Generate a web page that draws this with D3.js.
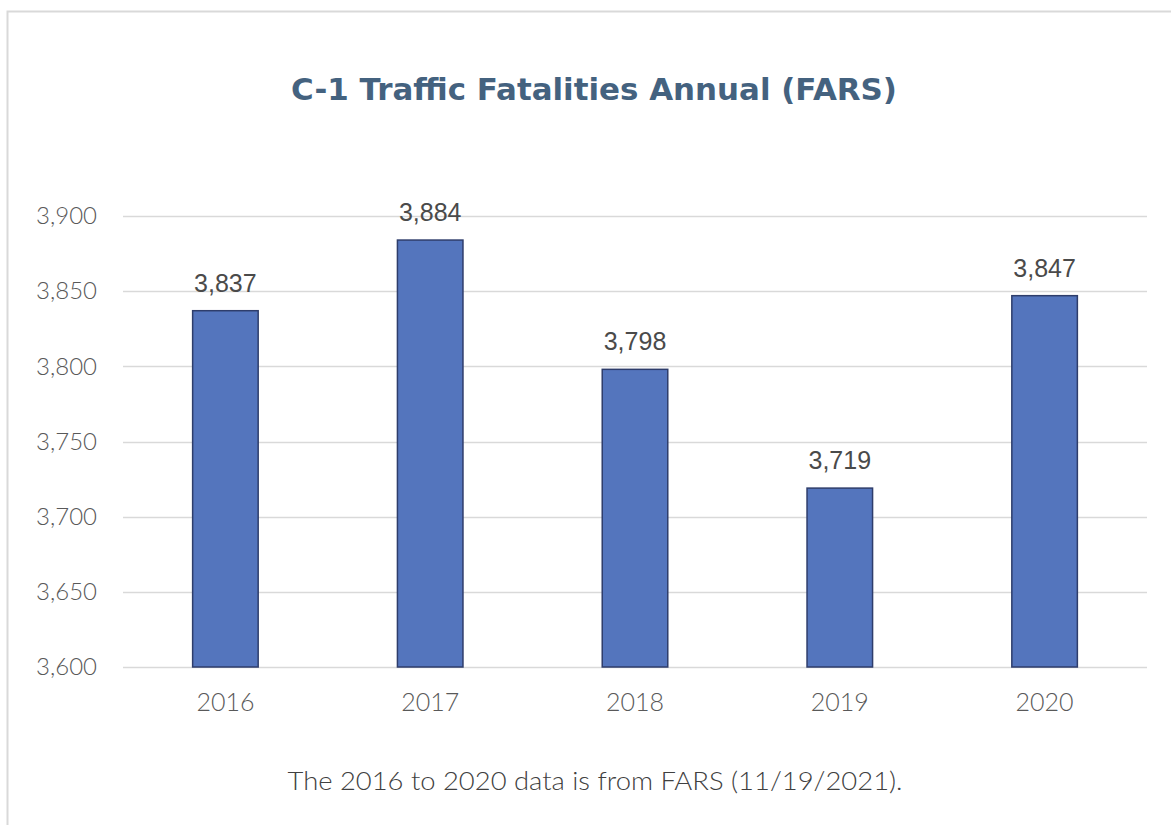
<!DOCTYPE html>
<html>
<head>
<meta charset="utf-8">
<script src="https://cdn.jsdelivr.net/npm/d3@7"></script>
<style>
  html, body { margin: 0; padding: 0; background: #fff; }
  svg { display: block; }
</style>
</head>
<body>
<svg id="chart"></svg>
<script>
// Chart data
const years = ["2016", "2017", "2018", "2019", "2020"];
const fatalities = [3837, 3884, 3798, 3719, 3847];
const yTicks = [3600, 3650, 3700, 3750, 3800, 3850, 3900];
const chartTitle = "C-1 Traffic Fatalities Annual (FARS)";
const footNote = "The 2016 to 2020 data is from FARS (11/19/2021).";

const W = 1171, H = 825;
const margin = { top: 216, right: 24, bottom: 158, left: 123 };
const width = W - margin.left - margin.right;
const height = H - margin.top - margin.bottom;

const svg = d3.select("#chart")
  .attr("width", W)
  .attr("height", H);

// outer chart border (runs off the right / bottom edge)
svg.append("rect")
  .attr("x", 7.5)
  .attr("y", 11.5)
  .attr("width", W + 20)
  .attr("height", H + 20)
  .attr("fill", "#fff")
  .attr("stroke", "#d9d9d9")
  .attr("stroke-width", 2);

svg.append("text")
  .attr("x", 594)
  .attr("y", 100)
  .attr("text-anchor", "middle")
  .attr("font-family", "'Century Gothic', 'DejaVu Sans', sans-serif")
  .attr("font-weight", "bold")
  .attr("font-size", 31)
  .attr("fill", "#44627f")
  .attr("textLength", 606)
  .attr("lengthAdjust", "spacingAndGlyphs")
  .text(chartTitle);

const g = svg.append("g")
  .attr("transform", `translate(${margin.left},${margin.top})`);

const x = d3.scaleBand()
  .domain(years)
  .range([0, width])
  .paddingInner(0.68)
  .paddingOuter(0.34);

const y = d3.scaleLinear()
  .domain([3600, 3900])
  .range([height, 0]);

// gridlines
g.append("g")
  .selectAll("line")
  .data(yTicks)
  .join("line")
  .attr("x1", 0)
  .attr("x2", width)
  .attr("y1", d => Math.round(y(d)) + 0.5)
  .attr("y2", d => Math.round(y(d)) + 0.5)
  .attr("stroke", "#d9d9d9")
  .attr("stroke-width", 1.5);

// y axis labels
const yAxis = g.append("g")
  .call(d3.axisLeft(y).tickValues(yTicks).tickFormat(d3.format(",")).tickSize(0).tickPadding(26));
yAxis.select(".domain").remove();
yAxis.selectAll("text")
  .attr("font-family", "'Century Gothic', Lato, sans-serif")
  .attr("font-weight", 300)
  .attr("font-size", 24)
  .attr("fill", "#595959");

// bars
g.selectAll("rect.bar")
  .data(years)
  .join("rect")
  .attr("class", "bar")
  .attr("x", d => x(d))
  .attr("y", (d, i) => y(fatalities[i]))
  .attr("width", x.bandwidth())
  .attr("height", (d, i) => height - y(fatalities[i]))
  .attr("fill", "#5475bd")
  .attr("stroke", "#2e3d6b")
  .attr("stroke-width", 1.5);

// data labels
g.selectAll("text.val")
  .data(years)
  .join("text")
  .attr("class", "val")
  .attr("x", d => x(d) + x.bandwidth() / 2)
  .attr("y", (d, i) => y(fatalities[i]) - 19)
  .attr("text-anchor", "middle")
  .attr("font-family", "'Liberation Sans', Arial, sans-serif")
  .attr("font-size", 25)
  .attr("fill", "#4a4a4a")
  .text((d, i) => d3.format(",")(fatalities[i]));

// x axis labels
const xAxis = g.append("g")
  .attr("transform", `translate(0,${height})`)
  .call(d3.axisBottom(x).tickSize(0).tickPadding(26));
xAxis.select(".domain").remove();
xAxis.selectAll("text")
  .attr("font-family", "'Century Gothic', Lato, sans-serif")
  .attr("font-weight", 300)
  .attr("font-size", 25)
  .attr("fill", "#595959");

svg.append("text")
  .attr("x", 595)
  .attr("y", 790)
  .attr("text-anchor", "middle")
  .attr("font-family", "'Century Gothic', Lato, sans-serif")
  .attr("font-weight", 300)
  .attr("font-size", 25)
  .attr("fill", "#404040")
  .attr("textLength", 615)
  .attr("lengthAdjust", "spacingAndGlyphs")
  .text(footNote);
</script>
</body>
</html>
